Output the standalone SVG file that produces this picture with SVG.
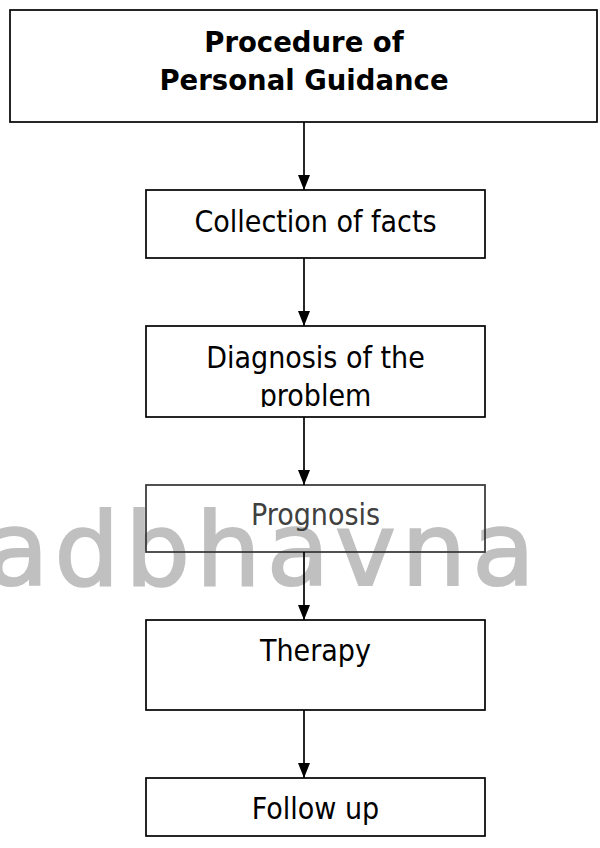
<svg xmlns="http://www.w3.org/2000/svg" width="600" height="848" viewBox="0 0 600 848">
  <style>
    .box { fill: none; stroke: #000; stroke-width: 1.7; }
    .label { font-family: "DejaVu Sans Condensed", "DejaVu Sans", sans-serif; font-stretch: condensed; font-size: 30px; fill: #000; text-anchor: middle; }
    .title { font-family: "DejaVu Sans", sans-serif; font-weight: bold; font-size: 27.5px; fill: #000; text-anchor: middle; }
    .wire { stroke: #000; stroke-width: 1.7; fill: none; marker-end: url(#head); }
    .mark { font-family: "DejaVu Sans", sans-serif; font-size: 102px; fill: #c0c0c0; stroke: #c0c0c0; stroke-width: 2.2px; letter-spacing: 6px; }
  </style>
  <defs>
    <marker id="head" viewBox="0 0 15 12" refX="15" refY="6" markerWidth="15" markerHeight="12" markerUnits="userSpaceOnUse" orient="auto">
      <path d="M0,0 L15,6 L0,12 Z" fill="#000"/>
    </marker>
    <clipPath id="clipDiag">
      <rect x="146" y="326" width="339" height="81"/>
    </clipPath>
  </defs>

  <rect width="600" height="848" fill="#fff"/>

  <!-- background watermark -->
  <text class="mark" x="-14" y="585">adbhavna</text>

  <g id="node-title">
    <rect class="box" x="10" y="10" width="587" height="112"/>
    <text class="title" x="304" y="52">Procedure of</text>
    <text class="title" x="304" y="90">Personal Guidance</text>
  </g>

  <g id="node-collection">
    <rect class="box" x="146" y="190" width="339" height="68"/>
    <text class="label" x="315.5" y="232">Collection of facts</text>
  </g>

  <g id="node-diagnosis">
    <rect class="box" x="146" y="326" width="339" height="91"/>
    <g clip-path="url(#clipDiag)">
      <text class="label" x="315.5" y="368">Diagnosis of the</text>
      <text class="label" x="315.5" y="406">problem</text>
    </g>
  </g>

  <g id="node-prognosis">
    <rect class="box" x="146" y="485" width="339" height="67" style="stroke:#333"/>
    <text class="label" x="315.5" y="525" style="fill:#404040">Prognosis</text>
  </g>

  <g id="node-therapy">
    <rect class="box" x="146" y="620" width="339" height="90"/>
    <text class="label" x="315.5" y="661">Therapy</text>
  </g>

  <g id="node-followup">
    <rect class="box" x="146" y="778" width="339" height="58"/>
    <text class="label" x="315.5" y="819">Follow up</text>
  </g>

  <g id="connectors">
    <line class="wire" x1="304" y1="122" x2="304" y2="190"/>
    <line class="wire" x1="304" y1="258" x2="304" y2="326"/>
    <line class="wire" x1="304" y1="417" x2="304" y2="485"/>
    <line class="wire" x1="304" y1="552" x2="304" y2="620"/>
    <line class="wire" x1="304" y1="710" x2="304" y2="778"/>
  </g>
</svg>
